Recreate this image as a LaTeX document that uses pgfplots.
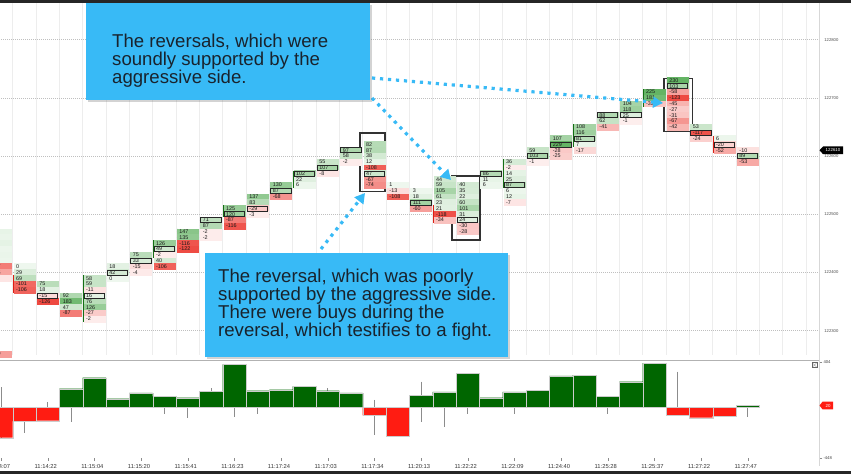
\documentclass[border=0pt]{standalone}
\usepackage{pgfplots}
\pgfplotsset{compat=1.18}
\usepackage{pgfplotstable}
\usepackage{fontspec}
\setmainfont{Liberation Sans}
\usetikzlibrary{arrows.meta,shadows}

\definecolor{cellgreen}{RGB}{40,150,40}
\definecolor{cellred}{RGB}{235,40,30}
\definecolor{candlegreen}{RGB}{20,110,20}
\definecolor{candlered}{RGB}{220,30,20}
\definecolor{bargreen}{RGB}{0,102,0}
\definecolor{barred}{RGB}{255,28,18}
\definecolor{calloutblue}{RGB}{56,186,246}
\definecolor{calltext}{RGB}{25,35,45}
\definecolor{boxgray}{RGB}{50,50,50}
\definecolor{axisgray}{RGB}{215,215,215}
\newcommand\cellfont{\fontsize{5.4}{5.4}\selectfont}
\newcommand\callfont{\fontsize{18.6}{18.6}\selectfont}

% footprint cells: column, price level, delta
\pgfplotstableread{
k p v
0 122470 12
0 122460 8
0 122450 15
0 122440 6
0 122430 9
0 122420 4
0 122410 -87
0 122400 -56
0 122390 -8
0 122260 -60
1 122410 0
1 122400 29
1 122390 69
1 122380 -101
1 122370 -106
2 122380 75
2 122370 18
2 122360 -15
2 122350 -126
3 122360 92
3 122350 183
3 122340 47
3 122330 -87
4 122390 58
4 122380 59
4 122370 -11
4 122360 16
4 122350 76
4 122340 126
4 122330 -27
4 122320 -2
5 122410 18
5 122400 42
5 122390 0
6 122430 75
6 122420 33
6 122410 -15
6 122400 -4
7 122450 126
7 122440 49
7 122430 -2
7 122420 40
7 122410 -106
8 122470 147
8 122460 135
8 122450 -116
8 122440 -122
9 122490 71
9 122480 87
9 122470 -2
9 122460 -2
10 122510 125
10 122500 120
10 122490 -87
10 122480 -116
11 122530 137
11 122520 83
11 122510 -29
11 122500 -3
12 122550 130
12 122540 87
12 122530 -68
13 122570 102
13 122560 22
13 122550 6
14 122590 55
14 122580 107
14 122570 -8
15 122610 97
15 122600 58
15 122590 -2
16 122620 82
16 122610 87
16 122600 38
16 122590 12
16 122580 -108
16 122570 47
16 122560 -67
16 122550 -74
17 122550 1
17 122540 -13
17 122530 -108
18 122540 3
18 122530 18
18 122520 111
18 122510 -60
19 122560 44
19 122550 59
19 122540 105
19 122530 61
19 122520 23
19 122510 21
19 122500 -118
19 122490 -34
20 122550 40
20 122540 35
20 122530 22
20 122520 60
20 122510 101
20 122500 31
20 122490 24
20 122480 -30
20 122470 -28
21 122570 86
21 122560 11
21 122550 6
22 122590 36
22 122580 -2
22 122570 14
22 122560 25
22 122550 87
22 122540 6
22 122530 12
22 122520 -7
23 122610 59
23 122600 103
23 122590 -1
24 122630 107
24 122620 229
24 122610 -28
24 122600 -25
25 122650 108
25 122640 116
25 122630 81
25 122620 7
25 122610 -17
26 122670 88
26 122660 62
26 122650 -41
27 122690 104
27 122680 118
27 122670 25
27 122660 -1
28 122710 225
28 122700 181
28 122690 -33
29 122730 230
29 122720 103
29 122710 -58
29 122700 -123
29 122690 -45
29 122680 -27
29 122670 -31
29 122660 -67
29 122650 -42
30 122650 53
30 122640 -117
30 122630 -24
31 122630 6
31 122620 -20
31 122610 -52
32 122610 -10
32 122600 89
32 122590 -53
}\cells

% cells with the largest volume (outlined)
\pgfplotstableread{
k p
2 122360
4 122360
5 122400
6 122420
7 122440
9 122490
10 122500
11 122510
12 122540
13 122570
14 122580
15 122610
16 122570
18 122520
20 122490
21 122570
22 122550
23 122600
24 122620
25 122630
26 122670
27 122670
29 122720
30 122640
31 122620
32 122600
}\poc

% delta per bar
\pgfplotstableread{
x d
3.5 167
4.5 265
5.5 78
6.5 129
7.5 99
8.5 87
9.5 146
10.5 383
11.5 149
12.5 158
13.5 188
14.5 149
15.5 129
18.5 108
19.5 140
20.5 306
21.5 87
22.5 140
23.5 152
24.5 280
25.5 285
26.5 99
27.5 229
28.5 395
32.5 20
}\deltapos
\pgfplotstableread{
x d
0.5 -268
1.5 -120
2.5 -117
16.5 -69
17.5 -256
29.5 -67
30.5 -90
31.5 -75
}\deltaneg

\begin{document}
\begin{tikzpicture}
\path[use as bounding box] (0,0) rectangle (851pt,474pt);

% price panel
\begin{axis}[
  at={(-24.6pt,119pt)}, anchor=south west,
  scale only axis, width=843.9pt, height=352pt,
  xmin=-0.6, xmax=35.567, ymin=122258, ymax=122863,
  axis line style={draw=none},
  xtick={0,...,35}, xticklabels={},
  xmajorgrids, x grid style={black!7, line width=0.5pt},
  ytick={122300,122400,122500,122600,122700,122800},
  yticklabels={122300,122400,122500,122600,122700,122800},
  yticklabel pos=right,
  ymajorgrids, y grid style={black!25, dash pattern=on 1pt off 1pt, line width=0.4pt},
  major tick length=0pt,
  yticklabel style={font=\fontsize{4.2}{4.2}\selectfont, text=black!70, xshift=1.5pt},
]
\addplot[scatter, only marks, mark=*, mark size=0pt, mark options={draw=none, fill=none},
  point meta=explicit symbolic,
  scatter/@pre marker code/.code={%
    \edef\vv{\pgfplotspointmeta}%
    \pgfmathtruncatemacro{\ii}{\vv<0 ? min(8+abs(\vv)*0.62,85) : min(8+\vv*0.32,72)}%
    \ifnum\vv<0 \colorlet{cc}{cellred!\ii!white}\else\colorlet{cc}{cellgreen!\ii!white}\fi
    \fill[cc] (1pt,-2.91pt) rectangle (22pt,2.91pt);
    \node[anchor=west, inner sep=0pt, font=\cellfont, text=black!90] at (3.2pt,0pt) {\vv};
  },
  scatter/@post marker code/.code={},
] table[x=k, y=p, meta=v] {\cells};

\addplot[scatter, only marks, mark=*, mark size=0pt, mark options={draw=none, fill=none},
  scatter/@pre marker code/.code={%
    \draw[black!85, line width=0.75pt] (1.4pt,-2.5pt) rectangle (21.6pt,2.5pt);
  },
  scatter/@post marker code/.code={},
] table[x=k, y=p] {\poc};

\addplot[candlegreen, line width=1.4pt, unbounded coords=jump] table {
x y
4.05 122395
4.05 122315
nan nan
5.05 122415
5.05 122385
nan nan
6.05 122435
6.05 122415
nan nan
7.05 122455
7.05 122425
nan nan
8.05 122475
8.05 122445
nan nan
9.05 122495
9.05 122475
nan nan
10.05 122515
10.05 122495
nan nan
11.05 122535
11.05 122505
nan nan
12.05 122555
12.05 122525
nan nan
13.05 122575
13.05 122545
nan nan
14.05 122595
14.05 122565
nan nan
15.05 122615
15.05 122585
nan nan
20.05 122555
20.05 122475
nan nan
21.05 122575
21.05 122545
nan nan
22.05 122595
22.05 122545
nan nan
23.05 122615
23.05 122585
nan nan
24.05 122635
24.05 122605
nan nan
25.05 122655
25.05 122615
nan nan
26.05 122675
26.05 122645
nan nan
27.05 122695
27.05 122655
nan nan
28.05 122715
28.05 122685
};
\addplot[candlered, line width=1.4pt, unbounded coords=jump] table {
x y
0.05 122425
0.05 122385
nan nan
1.05 122395
1.05 122365
nan nan
2.05 122375
2.05 122345
nan nan
3.05 122355
3.05 122325
nan nan
17.05 122555
17.05 122525
nan nan
18.05 122545
18.05 122505
nan nan
19.05 122515
19.05 122485
nan nan
29.05 122725
29.05 122645
nan nan
30.05 122655
30.05 122625
nan nan
31.05 122635
31.05 122605
nan nan
32.05 122615
32.05 122585
};

\draw[boxgray, line width=1.6pt] (axis cs:15.88,122640) rectangle (axis cs:16.96,122539);
\draw[boxgray, line width=1.6pt] (axis cs:19.83,122566) rectangle (axis cs:21.03,122456);
\draw[boxgray, line width=1.6pt] (axis cs:28.91,122733) rectangle (axis cs:30.14,122642);
\end{axis}

% delta panel
\begin{axis}[
  at={(-24.6pt,16pt)}, anchor=south west,
  scale only axis, width=843.9pt, height=98pt,
  xmin=-0.6, xmax=35.567, ymin=-448, ymax=421.75,
  axis line style={draw=none},
  xtick={0.5,2.5,...,32.5},
  xticklabels={11:14:07,11:14:22,11:15:04,11:15:20,11:15:41,11:16:23,11:17:24,11:17:03,11:17:34,11:20:13,11:22:22,11:22:09,11:24:40,11:25:28,11:25:37,11:27:22,11:27:47},
  xtick pos=lower, ytick pos=upper,
  tick align=outside, major tick length=3pt,
  tick style={black!45, line width=0.4pt},
  xticklabel style={font=\fontsize{5.8}{5.8}\selectfont, text=black!80, inner sep=0pt, yshift=-3.5pt, xshift=-2pt},
  ytick={-448,404}, yticklabels={-448,404}, yticklabel pos=upper,
  yticklabel style={font=\fontsize{4.2}{4.2}\selectfont, text=black!75, inner sep=1pt},
]
\addplot[black!45, line width=0.5pt, unbounded coords=jump] table {
x y
0.5 -268
0.5 185
nan nan
1.5 0
1.5 -226
nan nan
2.5 0
2.5 51
nan nan
3.5 0
3.5 -126
nan nan
7.5 0
7.5 -60
nan nan
8.5 0
8.5 -93
nan nan
9.5 146
9.5 173
nan nan
10.5 0
10.5 -82
nan nan
11.5 0
11.5 -60
nan nan
14.5 149
14.5 170
nan nan
16.5 67
16.5 -244
nan nan
18.5 229
18.5 -126
nan nan
19.5 0
19.5 -170
nan nan
20.5 0
20.5 -60
nan nan
22.5 0
22.5 -60
nan nan
26.5 0
26.5 -60
nan nan
29.5 318
29.5 0
nan nan
32.5 0
32.5 -82
};
\addplot[ybar, bar width=1, bar shift=0pt, fill=bargreen, draw=black!20, line width=0.3pt] table[x=x, y=d] {\deltapos};
\addplot[ybar, bar width=1, bar shift=0pt, fill=barred, draw=black!20, line width=0.3pt] table[x=x, y=d] {\deltaneg};
\end{axis}

% frame pieces
\fill[black!85] (0,471pt) rectangle (851pt,474pt);
\fill[black!85] (0,0) rectangle (851pt,3pt);
\draw[axisgray, line width=1.5pt] (819.3pt,471pt) -- (819.3pt,8pt);
\draw[black!30, line width=0.6pt] (0,114pt) -- (819.3pt,114pt);
\draw[black!60, line width=0.4pt] (812pt,106.5pt) rectangle (817pt,111.5pt);
\draw[black!60, line width=0.3pt] (812pt,106.5pt) -- (817pt,111.5pt) (812pt,111.5pt) -- (817pt,106.5pt);

% price and delta tags
\fill[black] (819.5pt,323.7pt) -- (823pt,327.5pt) -- (843pt,327.5pt) -- (843pt,319.9pt) -- (823pt,319.9pt) -- cycle;
\node[font=\fontsize{4.4}{4.4}\selectfont, text=white, inner sep=0pt] at (833pt,323.7pt) {122610};
\fill[barred] (819.5pt,68.5pt) -- (822.5pt,72.3pt) -- (833pt,72.3pt) -- (833pt,64.7pt) -- (822.5pt,64.7pt) -- cycle;
\node[font=\fontsize{4.4}{4.4}\selectfont, text=white, inner sep=0pt] at (828pt,68.5pt) {20};

% callout arrows
\begin{scope}[calloutblue, line width=3.2pt, dash pattern=on 3.2pt off 4.8pt]
\draw[-{Triangle[length=10pt, width=11pt]}] (372pt,396pt) -- (663pt,371pt);
\draw[-{Triangle[length=10pt, width=11pt]}] (372pt,376pt) -- (451pt,294pt);
\draw[-{Triangle[length=10pt, width=11pt]}] (321pt,225pt) -- (365pt,281pt);
\end{scope}

% callout boxes
\fill[calloutblue, drop shadow={opacity=0.35, shadow xshift=2pt, shadow yshift=-2pt}] (86pt,374pt) rectangle (370pt,471pt);
\fill[calloutblue, drop shadow={opacity=0.35, shadow xshift=2pt, shadow yshift=-2pt}] (205pt,117pt) rectangle (508pt,221pt);
\begin{scope}[every node/.style={anchor=base west, inner sep=0pt, font=\callfont, text=calltext}]
\node at (112pt,426pt) {The reversals, which were};
\node at (112pt,408pt) {soundly supported by the};
\node at (112pt,390pt) {aggressive side.};
\node at (218pt,191pt) {The reversal, which was poorly};
\node at (218pt,173pt) {supported by the aggressive side.};
\node at (218pt,155pt) {There were buys during the};
\node at (218pt,137pt) {reversal, which testifies to a fight.};
\end{scope}
\end{tikzpicture}
\end{document}
